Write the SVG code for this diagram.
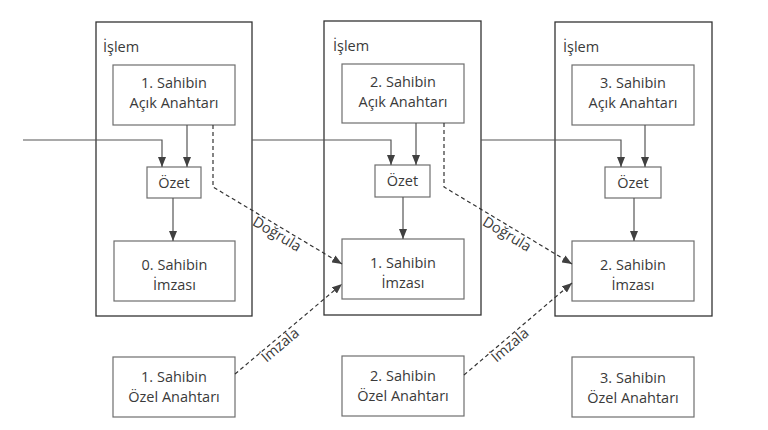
<svg xmlns="http://www.w3.org/2000/svg" width="768" height="430" viewBox="0 0 768 430">
<defs>
<marker id="ah" markerUnits="userSpaceOnUse" markerWidth="10" markerHeight="8" refX="10" refY="4" orient="auto">
<path d="M0,0 L10,4 L0,8 z" fill="#404040"/>
</marker>
<style>
.outer{fill:none;stroke:#333;stroke-width:1.3}
.box{fill:#fff;stroke:#6e6e6e;stroke-width:1.2}
.t{font-family:"Open Sans","Liberation Sans",sans-serif;font-size:14.5px;fill:#3a3a3a}
.c{text-anchor:middle}
.ln{fill:none;stroke:#555;stroke-width:1.2}
.arr{marker-end:url(#ah)}
.dash{fill:none;stroke:#333;stroke-width:1.2;stroke-dasharray:4 3}
</style>
</defs>
<rect width="768" height="430" fill="#fff"/>

<g id="tx1">
<rect class="outer" x="96" y="22" width="156" height="294"/>
<text class="t" x="103" y="52">İşlem</text>
</g>
<g id="tx2">
<rect class="outer" x="324" y="21" width="157" height="294"/>
<text class="t" x="333" y="51">İşlem</text>
</g>
<g id="tx3">
<rect class="outer" x="555" y="22" width="157" height="294"/>
<text class="t" x="563" y="52">İşlem</text>
</g>

<g id="pk1">
<rect class="box" x="113" y="65" width="122" height="60"/>
<text class="t c" x="174" y="88">1. Sahibin</text>
<text class="t c" x="174" y="108">Açık Anahtarı</text>
</g>
<g id="pk2">
<rect class="box" x="342" y="64" width="122" height="59"/>
<text class="t c" x="403" y="87">2. Sahibin</text>
<text class="t c" x="403" y="107">Açık Anahtarı</text>
</g>
<g id="pk3">
<rect class="box" x="572" y="65" width="122" height="60"/>
<text class="t c" x="633" y="88">3. Sahibin</text>
<text class="t c" x="633" y="108">Açık Anahtarı</text>
</g>

<g id="hash1">
<rect class="box" x="147" y="167" width="54" height="31"/>
<text class="t c" x="174" y="187.5">Özet</text>
</g>
<g id="hash2">
<rect class="box" x="375" y="165" width="55" height="32"/>
<text class="t c" x="402.5" y="186">Özet</text>
</g>
<g id="hash3">
<rect class="box" x="605" y="167" width="56" height="31"/>
<text class="t c" x="633" y="187.5">Özet</text>
</g>

<g id="sig0">
<rect class="box" x="114" y="241" width="121" height="60"/>
<text class="t c" x="174.5" y="270">0. Sahibin</text>
<text class="t c" x="174.5" y="290">İmzası</text>
</g>
<g id="sig1">
<rect class="box" x="342" y="239" width="122" height="60"/>
<text class="t c" x="403" y="268">1. Sahibin</text>
<text class="t c" x="403" y="288">İmzası</text>
</g>
<g id="sig2">
<rect class="box" x="572" y="241" width="122" height="60"/>
<text class="t c" x="633" y="270">2. Sahibin</text>
<text class="t c" x="633" y="290">İmzası</text>
</g>

<g id="priv1">
<rect class="box" x="113" y="357" width="122" height="60"/>
<text class="t c" x="174" y="382">1. Sahibin</text>
<text class="t c" x="174" y="402">Özel Anahtarı</text>
</g>
<g id="priv2">
<rect class="box" x="342" y="356" width="122" height="60"/>
<text class="t c" x="403" y="381">2. Sahibin</text>
<text class="t c" x="403" y="401">Özel Anahtarı</text>
</g>
<g id="priv3">
<rect class="box" x="572" y="357" width="122" height="60"/>
<text class="t c" x="633" y="382.5">3. Sahibin</text>
<text class="t c" x="633" y="402.5">Özel Anahtarı</text>
</g>

<g id="connectors">
<path class="ln arr" d="M23,140 H162 V167"/>
<path class="ln arr" d="M187,125 V167"/>
<path class="ln arr" d="M173,198 V241"/>
<path class="ln arr" d="M252,140 H391 V165"/>
<path class="ln arr" d="M416,123 V165"/>
<path class="ln arr" d="M403,197 V239"/>
<path class="ln arr" d="M481,140 H621 V167"/>
<path class="ln arr" d="M645,125 V167"/>
<path class="ln arr" d="M634,198 V241"/>

<path class="dash arr" d="M213,125 V187 L342,264"/>
<path class="dash arr" d="M444,123 V187 L572,264"/>
<path class="dash arr" d="M235,374 L342,284"/>
<path class="dash arr" d="M464,375 L572,283"/>

<g transform="translate(277,234) rotate(30.8)"><text class="t c" x="0" y="5">Doğrula</text></g>
<g transform="translate(507,234) rotate(31.2)"><text class="t c" x="0" y="5">Doğrula</text></g>
<g transform="translate(280,345) rotate(-40.1)"><text class="t c" x="0" y="5">İmzala</text></g>
<g transform="translate(510,345) rotate(-40.5)"><text class="t c" x="0" y="5">İmzala</text></g>
</g>
</svg>
